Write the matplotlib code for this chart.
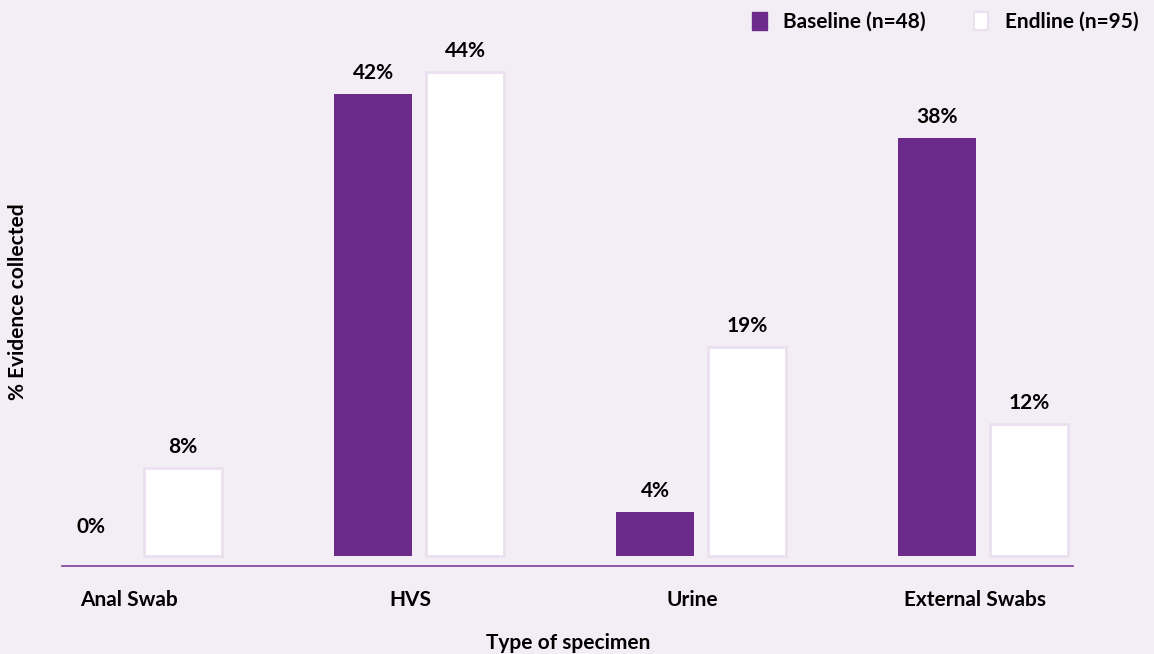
import matplotlib
matplotlib.use('Agg')
import matplotlib.pyplot as plt
from matplotlib.patches import Patch
import numpy as np

categories = ['Anal Swab', 'HVS', 'Urine', 'External Swabs']
baseline = [0, 42, 4, 38]
endline = [8, 44, 19, 12]
series_names = ['Baseline (n=48)', 'Endline (n=95)']

bg = '#f3eef6'
purple = '#6c2a8a'
edge = '#ebe0ef'

plt.rcParams['font.family'] = ['Lato', 'DejaVu Sans']
plt.rcParams['font.weight'] = 'bold'
fs = 15

fig = plt.figure(figsize=(11.54, 6.54), dpi=100, facecolor=bg)
ax = fig.add_axes([62/1154, 88/654, 1011/1154, 526/654], facecolor=bg)

x = np.arange(len(categories))
w = 0.277
off = 0.163
b1 = ax.bar(x - off, baseline, w, color=purple, linewidth=0)
b2 = ax.bar(x + off, endline, w, color='white', edgecolor=edge, linewidth=2)

# value labels above each bar
for bars, vals in [(b1, baseline), (b2, endline)]:
    for r, v in zip(bars, vals):
        dy = 14 if v == 0 else 8
        ax.annotate('{}%'.format(v), (r.get_x() + r.get_width()/2, v),
                    xytext=(0, dy), textcoords='offset points',
                    ha='center', va='bottom', fontsize=fs, fontweight='bold')

ax.set_xlim(-0.266, 3.319)
ax.set_ylim(-0.9, 46.9)
for s in ['top', 'right', 'left']:
    ax.spines[s].set_visible(False)
ax.spines['bottom'].set_color('#7b3a9a')
ax.spines['bottom'].set_linewidth(1.2)
ax.set_yticks([])
ax.set_xticks(x - 0.03)
ax.set_xticklabels(categories, fontsize=fs, fontweight='bold')
ax.tick_params(axis='x', length=0, pad=17)

fig.text(568/1154, 1 - 643/654, 'Type of specimen', ha='center', va='center',
         fontsize=fs, fontweight='bold')
fig.text(18/1154, 1 - 302/654, '% Evidence collected', ha='center', va='center',
         rotation=90, fontsize=fs, fontweight='bold')

handles = [Patch(facecolor=purple, edgecolor=purple),
           Patch(facecolor='white', edgecolor=edge, linewidth=1.5)]
fig.legend(handles, series_names, loc='upper right', bbox_to_anchor=(1.003, 1.011),
           ncol=2, frameon=False, handlelength=0.7, handleheight=1.0,
           columnspacing=2.3, handletextpad=0.8, prop={'weight': 'bold', 'size': fs})

fig.savefig('out.png', dpi=100, facecolor=bg)
